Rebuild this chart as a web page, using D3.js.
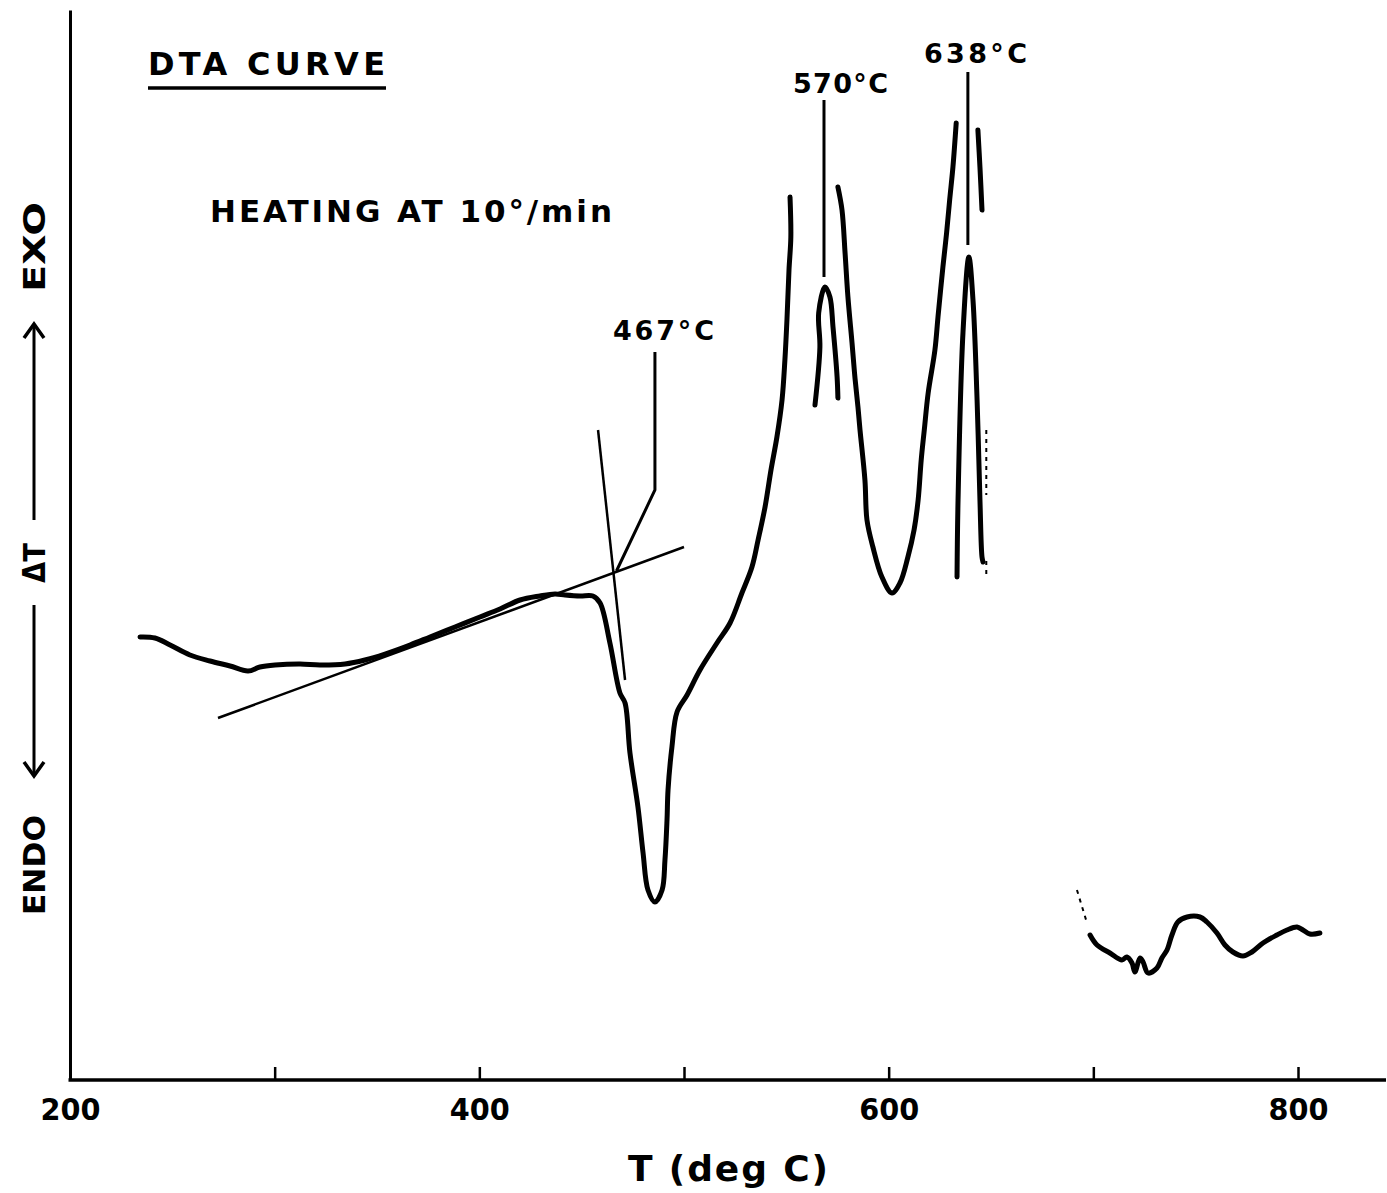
<!DOCTYPE html>
<html>
<head>
<meta charset="utf-8">
<script src="https://cdn.jsdelivr.net/npm/d3@7"></script>
<style>
body { margin: 0; background: #fff; }
svg { display: block; }
text { font-family: "DejaVu Sans", sans-serif; font-weight: bold; fill: #000; }
</style>
</head>
<body>
<div id="chart"></div>
<script>
const width = 1387, height = 1193;

// x axis: temperature, deg C
const xTicks = [200, 300, 400, 500, 600, 700, 800];
const xTickLabels = ["200", "", "400", "", "600", "", "800"];

// DTA trace, [T (deg C), delta T (arbitrary units)]
const lowTrace = [
	[234.2,44.3],[241.5,44.2],[248.9,43.5],[258.6,42.5],[268.4,41.9],[278.2,41.4],[287.0,40.9],
	[292.8,41.3],[300.2,41.5],[312.4,41.6],[322.1,41.5],[334.4,41.6],[344.1,42.0],[353.9,42.6],
	[366.1,43.5],[375.9,44.3],[388.1,45.3],[400.3,46.3],[410.1,47.1],[419.9,48.0],[429.6,48.4],
	[437.0,48.6],[441.9,48.5],[449.2,48.4],[455.5,48.4],[459.0,47.7],[463.8,43.7],[468.7,38.7],
	[471.2,37.7],[473.6,32.7],[477.5,27.3],[480.0,22.7],[482.4,19.0],[485.8,17.8],[489.3,19.0],
	[490.7,22.0],[491.7,26.0],[492.2,29.0],[494.1,33.3],[496.6,36.8],[501.5,38.5],[507.8,41.0],
	[516.1,43.7],[522.5,45.7],[528.3,48.7],[533.2,51.3],[536.2,54.0],[539.6,57.3],[542.5,61.0],
	[545.4,64.3],[547.9,68.0],[549.3,72.0],[550.3,76.0],[551.3,81.0],[552.2,84.3],[551.8,88.3]
];
const peak570Trace = [
	[564.0,67.5],[566.4,73.3],[565.8,76.7],[568.9,79.3],[571.3,78.3],[572.8,75.3],[574.8,70.3],[575.2,68.2]
];
const valleyTrace = [
	[575.2,89.3],[577.2,87.0],[578.7,82.7],[580.1,78.3],[582.1,73.7],[583.5,70.3],[585.0,67.3],
	[586.0,65.0],[588.4,60.0],[589.4,56.0],[592.3,53.3],[596.7,50.3],[601.6,48.7],[605.5,49.7],
	[609.4,52.3],[612.4,55.0],[614.4,58.0],[615.9,62.0],[617.4,65.0],[619.3,68.7],[622.6,73.0],
	[624.1,76.3],[626.5,81.3],[628.3,84.7],[629.8,88.0],[631.4,91.3],[633.0,95.7]
];
const peak638Trace = [
	[633.4,50.3],[633.9,58.0],[636.3,74.7],[639.2,82.3],[641.2,78.0],[643.2,68.0],[644.6,58.0],[645.6,52.3],[646.1,51.8]
];
const stub638Trace = [[643.6,95.0],[644.6,91.3],[645.6,87.0]];
const highTrace = [
	[698.4,14.5],[701.8,13.5],[708.1,12.7],[714.0,12.0],[716.4,12.3],[718.9,11.7],[720.3,10.8],
	[722.8,12.2],[724.3,11.8],[726.7,10.7],[731.1,11.2],[733.5,12.2],[736.0,13.0],[738.4,14.5],
	[741.3,15.8],[745.8,16.3],[752.1,16.3],[755.5,15.8],[760.4,14.7],[764.3,13.5],[768.2,12.8],
	[773.1,12.4],[777.5,12.8],[782.9,13.7],[789.7,14.5],[794.6,15.0],[799.5,15.3],[802.4,15.0],
	[805.8,14.6],[810.7,14.7]
];
const faintTraces = [
	[[692.0,19.0],[696.9,15.7]],
	[[647.7,65.0],[647.7,58.5]],
	[[647.7,51.9],[647.7,50.5]]
];

// construction lines for the onset
const baselineTangent = [[272.3,36.2],[500.0,53.3]];
const onsetTangent = [[458.0,65.0],[471.2,40.0]];

// peak markers
const leader467 = [[485.8,72.8],[485.8,59.0],[467.0,50.9]];
const leader570 = [[568.4,98.0],[568.4,80.3]];
const leader638 = [[638.7,100.8],[638.7,83.5]];

const svg = d3.select("#chart").append("svg")
	.attr("width", width).attr("height", height);

const x = d3.scaleLinear().domain([200, 800]).range([70, 1298]);
const y = d3.scaleLinear().domain([0, 107]).range([1080, 10]);

const line = d3.line()
	.x(d => x(d[0]))
	.y(d => y(d[1]))
	.curve(d3.curveCatmullRom.alpha(0.5));
const straight = d3.line().x(d => x(d[0])).y(d => y(d[1]));

// axes
const xAxis = svg.append("g")
	.attr("transform", `translate(0,${y(0)})`)
	.call(d3.axisBottom(x).tickValues(xTicks).tickFormat((d, i) => xTickLabels[i])
		.tickSizeInner(-13).tickSizeOuter(0).tickPadding(18));
xAxis.select(".domain").remove();
xAxis.selectAll(".tick line").attr("stroke", "#000").attr("stroke-width", 2.5);
xAxis.selectAll(".tick text").style("font-size", "31px").attr("textLength", 60).attr("lengthAdjust", "spacingAndGlyphs");
svg.append("line")
	.attr("x1", x(200) - 1.5).attr("x2", x(843))
	.attr("y1", y(0)).attr("y2", y(0))
	.attr("stroke", "#000").attr("stroke-width", 3.5);

const yAxis = svg.append("g")
	.attr("transform", `translate(${x(200)},0)`)
	.call(d3.axisLeft(y).tickValues([]).tickSizeOuter(0));
yAxis.select(".domain").attr("stroke", "#000").attr("stroke-width", 3);

// trace
[lowTrace, peak570Trace, valleyTrace, peak638Trace, stub638Trace, highTrace].forEach(seg => {
	svg.append("path").attr("d", line(seg))
		.attr("fill", "none").attr("stroke", "#000")
		.attr("stroke-width", 5).attr("stroke-linecap", "round").attr("stroke-linejoin", "round");
});
faintTraces.forEach(seg => {
	svg.append("path").attr("d", straight(seg))
		.attr("fill", "none").attr("stroke", "#000")
		.attr("stroke-width", 2).attr("stroke-dasharray", "4,5");
});

// tangents + leaders
[baselineTangent, onsetTangent].forEach(seg => {
	svg.append("path").attr("d", straight(seg))
		.attr("fill", "none").attr("stroke", "#000").attr("stroke-width", 2.5);
});
[leader467, leader570, leader638].forEach(seg => {
	svg.append("path").attr("d", straight(seg))
		.attr("fill", "none").attr("stroke", "#000").attr("stroke-width", 3);
});

// labels
function label(txt, px, py, size, len, anchor) {
	return svg.append("text").attr("x", px).attr("y", py)
		.attr("text-anchor", anchor || "start")
		.style("font-size", size + "px")
		.attr("textLength", len).attr("lengthAdjust", "spacing")
		.text(txt);
}
label("DTA CURVE", 148, 75, 32, 237);
svg.append("line").attr("x1", 148).attr("x2", 386).attr("y1", 88).attr("y2", 88)
	.attr("stroke", "#000").attr("stroke-width", 3.5);
label("HEATING AT 10°/min", 210, 222, 31, 402);
label("467°C", 613, 340, 27, 101);
label("570°C", 793, 93, 27, 95);
label("638°C", 924, 63, 27, 103);
label("T  (deg C)", 628, 1181, 36, 200);

// y label: ENDO <--- dT ---> EXO, rotated
const yl = svg.append("g").attr("transform", "translate(45,0) rotate(-90)");
function ylText(txt, u0, len, size) {
	yl.append("text").attr("x", u0).attr("y", 0)
		.style("font-size", (size || 31) + "px")
		.attr("textLength", len).attr("lengthAdjust", "spacingAndGlyphs")
		.text(txt);
}
ylText("ENDO", -915, 100);
ylText("ΔT", -583, 40, 31);
ylText("EXO", -292, 90);
const mid = -11;
yl.append("line").attr("x1", -775).attr("x2", -605).attr("y1", mid).attr("y2", mid)
	.attr("stroke", "#000").attr("stroke-width", 3);
yl.append("line").attr("x1", -520).attr("x2", -325).attr("y1", mid).attr("y2", mid)
	.attr("stroke", "#000").attr("stroke-width", 3);
yl.append("path").attr("d", `M-762,${mid - 10}L-776,${mid}L-762,${mid + 10}`)
	.attr("fill", "none").attr("stroke", "#000").attr("stroke-width", 3.5).attr("stroke-linejoin", "miter");
yl.append("path").attr("d", `M-338,${mid - 10}L-324,${mid}L-338,${mid + 10}`)
	.attr("fill", "none").attr("stroke", "#000").attr("stroke-width", 3.5).attr("stroke-linejoin", "miter");
</script>
</body>
</html>
